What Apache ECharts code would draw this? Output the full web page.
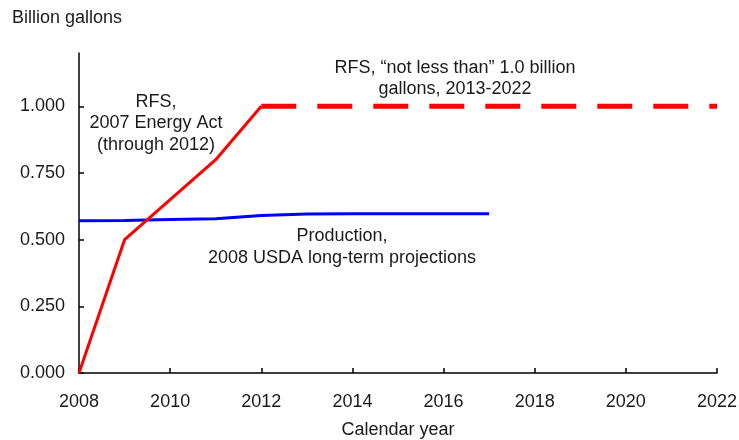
<!DOCTYPE html>
<html>
<head>
    <meta charset="utf-8">
    <title>Billion gallons</title>
    <script src="https://cdn.jsdelivr.net/npm/echarts@6.0.0/dist/echarts.min.js"></script>
    <style>
        body, html { margin: 0; padding: 0; background: #fff; }
        #main { width: 739px; height: 440px; }
    </style>
</head>
<body>
    <div id="main"></div>
    <script>
        // RFS mandate (solid through 2012, then "not less than" 1.0 billion)
        const rfsYears = [2008, 2009, 2010, 2011, 2012];
        const rfsValues = [0, 0.5, 0.65, 0.8, 1.0];
        const rfsFloorYears = [2012, 2022];
        const rfsFloorValues = [1.0, 1.0];

        // Production, 2008 USDA long-term projections
        const prodYears = [2008, 2009, 2010, 2011, 2012, 2013, 2014, 2015, 2016, 2017];
        const prodValues = [0.571, 0.572, 0.576, 0.578, 0.591, 0.596, 0.597, 0.597, 0.597, 0.597];

        const yTicks = [0, 0.25, 0.5, 0.75, 1.0];

        const pair = (xs, ys) => xs.map((x, i) => [x, ys[i]]);
        const font = "'Liberation Sans', Arial, sans-serif";
        const fs = 18;
        const ink = '#1a1a1a';

        var myChart = echarts.init(document.getElementById('main'));

        const option = {
            backgroundColor: '#fff',
            animation: false,
            textStyle: { fontFamily: font },
            grid: { left: 79, right: 22, top: 53, bottom: 67, outerBoundsMode: 'none' },
            xAxis: {
                type: 'value',
                min: 2008,
                max: 2022,
                interval: 2,
                name: 'Calendar year',
                nameLocation: 'middle',
                nameGap: 48,
                nameTextStyle: { color: ink, fontSize: fs, fontFamily: font },
                axisLine: { lineStyle: { color: '#000', width: 1.5 } },
                axisTick: { inside: true, length: 5, lineStyle: { color: '#000', width: 1.5 } },
                axisLabel: { color: ink, fontSize: fs, margin: 20, fontFamily: font, formatter: v => String(v) },
                splitLine: { show: false }
            },
            yAxis: {
                type: 'value',
                min: 0,
                max: 1.2,
                axisLine: { show: true, lineStyle: { color: '#000', width: 1.5 } },
                axisTick: { show: true, inside: true, length: 5, customValues: yTicks, lineStyle: { color: '#000', width: 1.5 } },
                axisLabel: {
                    color: ink, fontSize: fs, margin: 14, fontFamily: font,
                    customValues: yTicks,
                    formatter: v => v.toFixed(3)
                },
                splitLine: { show: false }
            },
            series: [
                {
                    type: 'line',
                    data: pair(prodYears, prodValues),
                    symbol: 'none',
                    lineStyle: { color: '#0000ff', width: 3 },
                    z: 2
                },
                {
                    type: 'line',
                    data: pair(rfsYears, rfsValues),
                    symbol: 'none',
                    lineStyle: { color: '#ff0000', width: 3 },
                    z: 3
                },
                {
                    type: 'line',
                    data: pair(rfsFloorYears, rfsFloorValues),
                    symbol: 'none',
                    lineStyle: { color: '#ff0000', width: 5, type: [35, 21], cap: 'butt' },
                    z: 3
                }
            ],
            graphic: [
                {
                    type: 'text', left: 12, top: 9,
                    style: { text: 'Billion gallons', fill: ink, fontSize: fs, fontFamily: font }
                },
                {
                    type: 'text', x: 156, y: 91,
                    style: {
                        text: 'RFS,\n2007 Energy Act\n(through 2012)',
                        fill: ink, fontSize: fs, lineHeight: 21.5, fontFamily: font,
                        align: 'center', verticalAlign: 'top'
                    }
                },
                {
                    type: 'text', x: 455, y: 58,
                    style: {
                        text: 'RFS, \u201cnot less than\u201d 1.0 billion\ngallons, 2013-2022',
                        fill: ink, fontSize: fs, lineHeight: 21, fontFamily: font,
                        align: 'center', verticalAlign: 'top'
                    }
                },
                {
                    type: 'text', x: 342, y: 225,
                    style: {
                        text: 'Production,\n2008 USDA long-term projections',
                        fill: ink, fontSize: fs, lineHeight: 22, fontFamily: font,
                        align: 'center', verticalAlign: 'top'
                    }
                }
            ]
        };

        myChart.setOption(option);
    </script>
</body>
</html>
